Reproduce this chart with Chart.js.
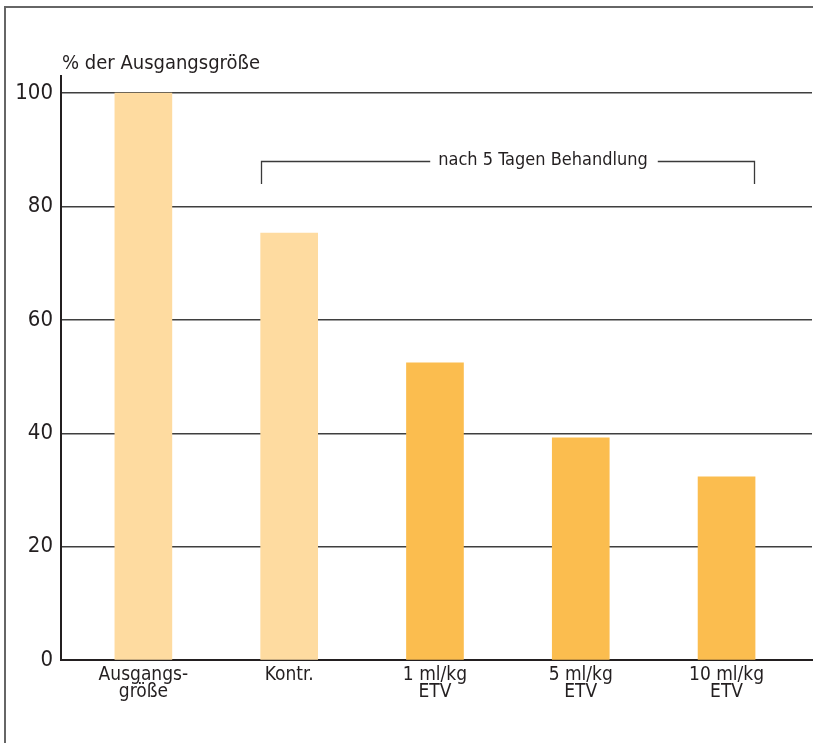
<!DOCTYPE html>
<html lang="de">
<head>
<meta charset="utf-8">
<title>% der Ausgangsgröße</title>
<script src="https://cdn.jsdelivr.net/npm/chart.js@4"></script>
<style>
  html, body { margin: 0; padding: 0; background: #fff; }
  #wrap { position: relative; width: 813px; height: 743px; }
</style>
</head>
<body>
<div id="wrap"><canvas id="chart"></canvas></div>
<script>
// Kategorien und Werte
const LABELS = [['Ausgangs-', 'größe'], 'Kontr.', ['1 ml/kg', 'ETV'], ['5 ml/kg', 'ETV'], ['10 ml/kg', 'ETV']];
const VALUES = [100, 75.3, 52.4, 39.2, 32.3];
const Y_TICKS = [0, 20, 40, 60, 80, 100];
const Y_TITLE = '% der Ausgangsgröße';
const BRACKET_TEXT = 'nach 5 Tagen Behandlung';

const LIGHT = '#fedba0';
const DARK = '#fbbd4f';
const INK = '#231f20';
const FONT = '"DejaVu Sans Condensed", "DejaVu Sans", sans-serif';
const BAR_W = 57;

// Rahmen, Achsentitel und Klammer "nach 5 Tagen Behandlung"
const decor = {
  id: 'decor',
  beforeDraw(chart) {
    const c = chart.ctx;
    c.save();
    c.fillStyle = '#fff';
    c.fillRect(0, 0, chart.width, chart.height);
    c.restore();
  },
  afterDraw(chart) {
    const c = chart.ctx;
    const x = chart.scales.x, y = chart.scales.y;
    c.save();
    // Rahmen links + oben
    c.strokeStyle = '#666';
    c.lineWidth = 2;
    c.beginPath();
    c.moveTo(5, chart.height);
    c.lineTo(5, 7);
    c.lineTo(chart.width, 7);
    c.stroke();

    // Achsentitel
    c.fillStyle = INK;
    c.font = '20px ' + FONT;
    c.textAlign = 'left';
    c.textBaseline = 'alphabetic';
    c.fillText(Y_TITLE, chart.chartArea.left + 1, 69);

    // Klammer
    const x1 = Math.round(x.getPixelForValue(1) - BAR_W / 2) + 0.5;
    const x2 = Math.round(x.getPixelForValue(4) + BAR_W / 2) - 0.5;
    const yTop = Math.round(y.getPixelForValue(88)) + 0.5;
    const yBot = Math.round(y.getPixelForValue(84));
    c.font = '18px ' + FONT;
    const tw = c.measureText(BRACKET_TEXT).width;
    const tx = (x1 + x2) / 2 + 35 - tw / 2;
    c.strokeStyle = '#3a3a3a';
    c.lineWidth = 1.3;
    c.beginPath();
    c.moveTo(x1, yBot);
    c.lineTo(x1, yTop);
    c.lineTo(tx - 8, yTop);
    c.moveTo(tx + tw + 10, yTop);
    c.lineTo(x2, yTop);
    c.lineTo(x2, yBot);
    c.stroke();
    c.textBaseline = 'middle';
    c.fillText(BRACKET_TEXT, tx, yTop - 1);
    c.restore();
  }
};

new Chart(document.getElementById('chart'), {
  type: 'bar',
  data: {
    datasets: [{
      data: VALUES.map((v, i) => ({ x: i, y: v })),
      backgroundColor: VALUES.map((_, i) => i < 2 ? LIGHT : DARK),
      borderWidth: 0,
      barThickness: BAR_W,
    }],
  },
  options: {
    responsive: true,
    maintainAspectRatio: false,
    animation: false,
    layout: { padding: { top: 76, left: 0, right: 1, bottom: 0 } },
    plugins: { legend: { display: false }, tooltip: { enabled: false }, title: { display: false } },
    scales: {
      x: {
        type: 'linear',
        offset: false,
        min: -0.565,
        max: 4.586,
        afterBuildTicks: (s) => { s.ticks = LABELS.map((_, i) => ({ value: i })); },
        afterFit: (s) => { s.height = 83; },
        grid: { display: false, drawTicks: false, offset: false },
        border: { color: INK, width: 2 },
        ticks: {
          autoSkip: false,
          maxRotation: 0,
          padding: 7,
          color: INK,
          font: { family: FONT, size: 19, lineHeight: 0.88 },
          callback: (v) => LABELS[v],
        },
      },
      y: {
        min: 0,
        max: 103,
        afterBuildTicks: (s) => { s.ticks = Y_TICKS.map(v => ({ value: v })); },
        afterFit: (s) => { s.width = 61; },
        grid: { color: '#3f3f3f', lineWidth: 1.4, drawTicks: false },
        border: { color: INK, width: 2 },
        ticks: {
          padding: 8,
          color: INK,
          font: { family: FONT, size: 22 },
        },
      },
    },
  },
  plugins: [decor],
});
</script>
</body>
</html>
